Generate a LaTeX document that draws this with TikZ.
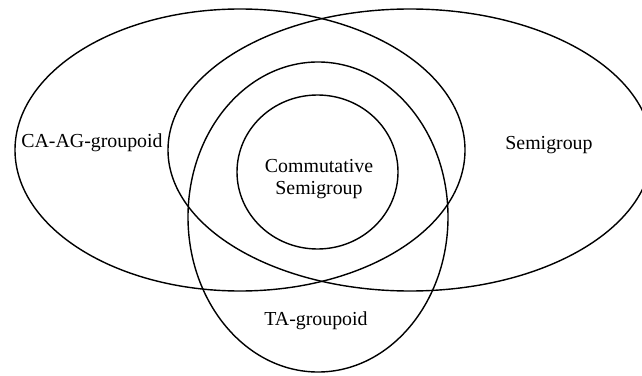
\documentclass[tikz,border=0pt]{standalone}
\usepackage{fontspec}
\setmainfont{Liberation Serif}
\begin{document}
\begin{tikzpicture}[x=0.2mm,y=-0.2mm,line width=0.8pt]
\tikzset{setname/.style={font=\fontsize{11.3}{12.5}\selectfont, align=center, inner sep=0pt}}
\clip (0,0) rectangle (642,376);
\draw (240,150) ellipse [x radius=225, y radius=141];
\draw (410,150) ellipse [x radius=242, y radius=141];
\draw (318,217) ellipse [x radius=130, y radius=155];
\draw (317.5,172) ellipse [x radius=80.5, y radius=77];
\node[setname] (caag) at (92,143){CA-AG-groupoid};
\node[setname] (semi) at (549,145){Semigroup};
\node[setname] (comm) at (319,179){Commutative\\Semigroup};
\node[setname] (ta) at (316,321){TA-groupoid};
\end{tikzpicture}
\end{document}
